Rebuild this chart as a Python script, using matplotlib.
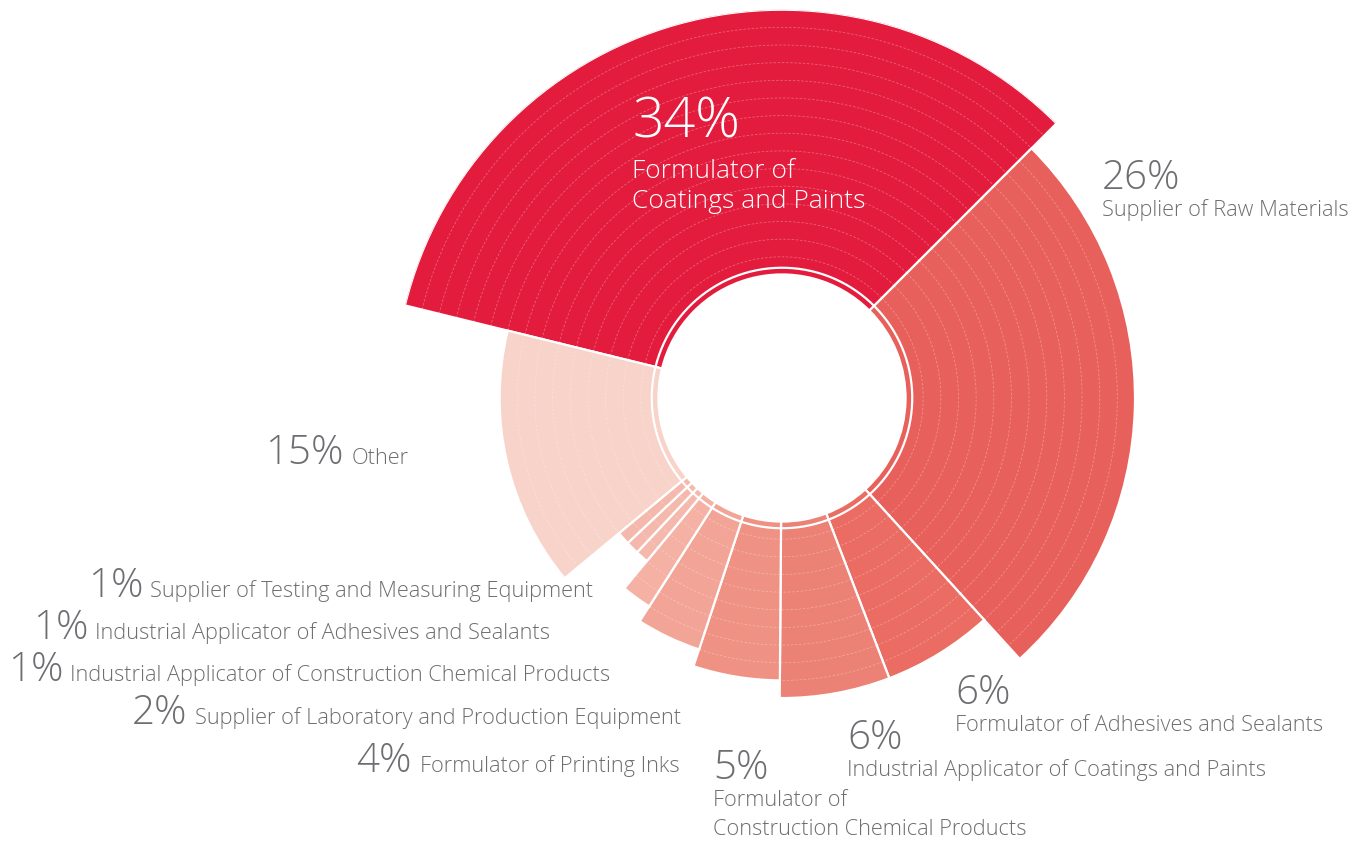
import numpy as np
import matplotlib.pyplot as plt

# share of respondents by company type (percent), drawn clockwise
segments = ["Formulator of\nCoatings and Paints", "Supplier of Raw Materials",
            "Formulator of Adhesives and Sealants",
            "Industrial Applicator of Coatings and Paints",
            "Formulator of\nConstruction Chemical Products",
            "Formulator of Printing Inks",
            "Supplier of Laboratory and Production Equipment",
            "Industrial Applicator of Construction Chemical Products",
            "Industrial Applicator of Adhesives and Sealants",
            "Supplier of Testing and Measuring Equipment",
            "Other"]
shares = [34, 26, 6, 6, 5, 4, 2, 1, 1, 1, 15]
# number of rings each wedge reaches out
rings = [15, 13, 10, 10, 9, 8, 7, 5, 5, 5, 9]
colors = ["#E31C3D", "#E8605B", "#EA6C63", "#EC8175", "#EF9183", "#F2A597",
          "#F4B1A4", "#F5B8AC", "#F5B8AC", "#F5B8AC", "#F7D3C9"]

W, H = 1367, 842
HOLE = 7            # radius of the empty centre, in ring units
RING_PX = 17.65     # pixel size of one ring
START = 166.2       # angle (deg, ccw from east) where the first wedge starts
TXT = "#6D6E71"
FONT = "Open Sans"

fig = plt.figure(figsize=(W / 100, H / 100), dpi=100)
cx, cy = 782, H - 398
R = (HOLE + max(rings)) * RING_PX
ax = fig.add_axes([(cx - R) / W, (cy - R) / H, 2 * R / W, 2 * R / H], projection="polar")
ax.set_theta_direction(-1)
ax.set_theta_offset(np.deg2rad(START))
ax.set_ylim(0, HOLE + max(rings))
ax.set_axis_off()

frac = np.array(shares) / sum(shares) * 2 * np.pi
left = np.concatenate([[0], np.cumsum(frac)[:-1]])

ax.bar(left, rings, width=frac, bottom=HOLE, align="edge", color=colors,
       edgecolor="white", linewidth=1.6, zorder=2)

# faint dashed ring lines inside each wedge
for l, w, n in zip(left, frac, rings):
    t = np.linspace(l, l + w, 200)
    for k in range(1, n):
        ax.plot(t, np.full_like(t, HOLE + k), color="white", lw=0.6, alpha=0.3,
                ls=(0, (3, 2)), zorder=3)

# thin white circle separating the inner band
t = np.linspace(0, 2 * np.pi, 400)
ax.plot(t, np.full_like(t, HOLE + 0.38), color="white", lw=1.6, zorder=4)


def put(x, y, s, size, color=TXT):
    fig.text(x / W, 1 - y / H, s, fontsize=size, color=color, family=FONT,
             weight="light", ha="left", va="baseline")


PCT = 29
DESC = 15.7

# big label inside the largest wedge
put(632, 138, "34%", 40, "white")
put(632, 178, "Formulator of", 19, "white")
put(632, 208, "Coatings and Paints", 19, "white")

# labels stacked under their percent
put(1102, 189, "26%", PCT)
put(1102, 216, segments[1], DESC)
put(955, 704, "6%", PCT)
put(955, 731, segments[2], DESC)
put(847, 749, "6%", PCT)
put(847, 776, segments[3], DESC)
put(713, 779, "5%", PCT)
put(713, 806, "Formulator of", DESC)
put(713, 835, "Construction Chemical Products", DESC)

# inline labels on the left
inline = [(10, 265, 352, 464), (9, 88, 150, 597), (8, 33, 95, 639),
          (7, 8, 70, 681), (6, 132, 195, 724), (5, 356, 420, 772)]
for i, xp, xd, yb in inline:
    put(xp, yb, f"{shares[i]}%", PCT)
    put(xd, yb, segments[i], DESC)

fig.savefig("out.png", dpi=100, facecolor="white")
